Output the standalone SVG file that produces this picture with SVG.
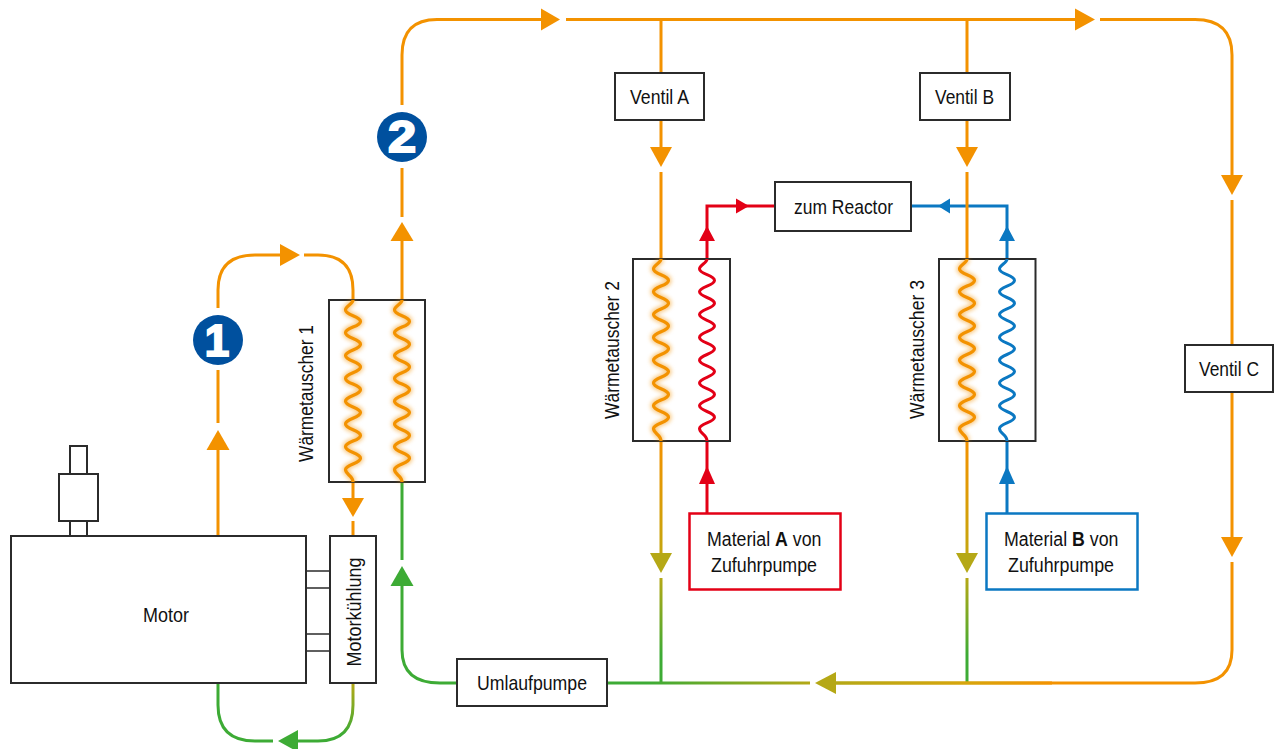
<svg xmlns="http://www.w3.org/2000/svg" width="1275" height="749" viewBox="0 0 1275 749">
<style>
.bg{fill:#fff}
.box{fill:#fff;stroke:#2b2b2b;stroke-width:2}
.stub{fill:none;stroke:#2b2b2b;stroke-width:1.6}
.t{font-family:"Liberation Sans",Arial,sans-serif;font-size:21px;fill:#111}
.b{font-weight:bold}
.l{fill:none;stroke-width:3;stroke-linecap:butt}
.o{stroke:#f39200}.r{stroke:#e30016}.u{stroke:#0b78c2}.g{stroke:#3dab35}
.fo{fill:#f39200}.fr{fill:#e30016}.fu{fill:#0b78c2}.fg{fill:#3dab35}.fy{fill:#b5a816}
.num{font-family:"Liberation Sans",Arial,sans-serif;font-weight:bold;font-size:44px;fill:#fff;stroke:#fff;stroke-width:2;text-anchor:middle}
.badge{fill:#00509e}
</style>
<defs>
<filter id="glow" x="-100%" y="-10%" width="300%" height="120%"><feGaussianBlur stdDeviation="2.200"/></filter>
<path id="coil" d="M0 0c0 4-7.500 6-7.500 10 0 5.200 15 6.200 15 11.400s-15 6.200-15 11.400 15 6.200 15 11.400-15 6.200-15 11.400 15 6.200 15 11.400-15 6.200-15 11.400 15 6.200 15 11.400-15 6.200-15 11.400 15 6.200 15 11.400-15 6.200-15 11.400 15 6.200 15 11.400-15 6.200-15 11.400 15 6.200 15 11.400-15 6.200-15 11.400c0 5 7.500 6 7.500 12.400"/>
<g id="hot"><use href="#coil" fill="none" stroke="#f39200" stroke-width="6" opacity=".5" filter="url(#glow)"/><use href="#coil" fill="none" stroke="#f39200" stroke-width="3.200"/></g>
<linearGradient id="gMotor" gradientUnits="userSpaceOnUse" x1="0" y1="683" x2="0" y2="735"><stop offset="0" stop-color="#b5a816"/><stop offset="1" stop-color="#3dab35"/></linearGradient>
<linearGradient id="gDownA" gradientUnits="userSpaceOnUse" x1="0" y1="441" x2="0" y2="555"><stop offset="0" stop-color="#f39200"/><stop offset="1" stop-color="#c4a60f"/></linearGradient>
<linearGradient id="gLow" gradientUnits="userSpaceOnUse" x1="0" y1="578" x2="0" y2="655"><stop offset="0" stop-color="#b5a816"/><stop offset="1" stop-color="#3dab35"/></linearGradient>
<linearGradient id="gB1" gradientUnits="userSpaceOnUse" x1="836" y1="0" x2="1052" y2="0"><stop offset="0" stop-color="#b5a816"/><stop offset=".6" stop-color="#d7a50c"/><stop offset="1" stop-color="#f39200"/></linearGradient>
<linearGradient id="gB2" gradientUnits="userSpaceOnUse" x1="607" y1="0" x2="812" y2="0"><stop offset=".2" stop-color="#3dab35"/><stop offset="1" stop-color="#b5a816"/></linearGradient>
</defs>
<rect class="bg" width="1275" height="749"/>

<g id="connectors">
<path class="l o" d="M218 536V448M218 423V370M218 308V290Q218 255 255 255H281M304 255H318Q353 255 353 290V300"/>
<polygon class="fo" points="218,430 229.500,450 206.500,450"/>
<polygon class="fo" points="300,255 280,244 280,266"/>
<path class="l o" d="M353 482V500M353 521V536"/>
<polygon class="fo" points="353,517 342,498 364,498"/>
<path d="M353 683V705Q353 741 318 741H297" fill="none" stroke="url(#gMotor)" stroke-width="3"/>
<path class="l g" d="M218 683V705Q218 741 255 741H273"/>
<polygon class="fg" points="278,741 298,730 298,752"/>
<path class="l g" d="M402 482V560M402 586V650Q402 683 440 683H458"/>
<polygon class="fg" points="402,566 413.500,586 390.500,586"/>
<path class="l o" d="M402 300V240M402 217V168M402 105V55Q402 19.500 437 19.500H542M566 19.500H1076M1100 19.500H1195Q1232 19.500 1232 55V176M1232 200V345M1232 392V538M1232 562V650Q1232 683 1195 683H1052"/>
<polygon class="fo" points="402,222 413.500,241 390.500,241"/>
<polygon class="fo" points="560,19.500 541,8.500 541,30.500"/>
<polygon class="fo" points="1095,19.500 1075,8.500 1075,30.500"/>
<polygon class="fo" points="1232,195 1221,175 1243,175"/>
<polygon class="fo" points="1232,557 1221,537 1243,537"/>
<path class="l r" d="M707 513V441M707 259V206H775"/>
<polygon class="fr" points="707,466 699,484 715,484"/>
<polygon class="fr" points="707,226 699,241 715,241"/>
<polygon class="fr" points="749,206 736,198.500 736,213.500"/>
<path class="l u" d="M1007 513V441M1007 259V206H911"/>
<polygon class="fu" points="1007,466 999,484 1015,484"/>
<polygon class="fu" points="1007,226 999,241 1015,241"/>
<polygon class="fu" points="938,206 950,198.500 950,213.500"/>
<path class="l o" d="M661 19.500V73M661 120V150M661 172V259"/>
<polygon class="fo" points="661,167 650,147 672,147"/>
<path class="l o" d="M967 19.500V73M967 120V150M967 172V259"/>
<polygon class="fo" points="967,167 956,147 978,147"/>
<path d="M661 441V555M967 441V555" fill="none" stroke="url(#gDownA)" stroke-width="3"/>
<polygon class="fy" points="661,573 650,553 672,553"/>
<polygon class="fy" points="967,573 956,553 978,553"/>
<path d="M661 578V683M967 578V683" fill="none" stroke="url(#gLow)" stroke-width="3"/>
<path d="M1052 683H836" fill="none" stroke="url(#gB1)" stroke-width="3.400"/>
<polygon class="fy" points="815,683 836,672 836,694"/>
<path d="M810 683H607" fill="none" stroke="url(#gB2)" stroke-width="3"/>
</g>

<g id="motor"><rect class="box" x="11" y="536" width="295" height="147"/><text class="t" x="143" y="621.500" textLength="46" lengthAdjust="spacingAndGlyphs">Motor</text></g>
<g id="shaft"><rect class="box" x="70" y="446" width="17" height="28"/><rect class="box" x="70" y="521" width="17" height="15"/><rect class="box" x="59" y="474" width="39" height="47"/></g>
<g id="motorkuehlung"><path class="stub" d="M306 571H330M306 588H330M306 634H330M306 651H330"/><rect class="box" x="330" y="536" width="46" height="147"/><text class="t" transform="translate(360.500 666.500) rotate(-90)" textLength="109" lengthAdjust="spacingAndGlyphs">Motorkühlung</text></g>
<g id="waermetauscher1"><rect class="box" x="329" y="300" width="96" height="182"/><use href="#hot" x="353" y="300"/><use href="#hot" x="402" y="300"/><text class="t" transform="translate(313 462) rotate(-90)" textLength="137" lengthAdjust="spacingAndGlyphs">Wärmetauscher 1</text></g>
<g id="waermetauscher2"><rect class="box" x="633" y="259" width="97" height="182"/><use href="#hot" x="661" y="259"/><use href="#coil" x="707" y="259" fill="none" stroke="#e30016" stroke-width="3"/><text class="t" transform="translate(619 419) rotate(-90)" textLength="138" lengthAdjust="spacingAndGlyphs">Wärmetauscher 2</text></g>
<g id="waermetauscher3"><rect class="box" x="939" y="259" width="96.500" height="182"/><use href="#hot" x="967" y="259"/><use href="#coil" x="1007" y="259" fill="none" stroke="#0b78c2" stroke-width="3"/><text class="t" transform="translate(924 419) rotate(-90)" textLength="139" lengthAdjust="spacingAndGlyphs">Wärmetauscher 3</text></g>
<g id="ventilA"><rect class="box" x="615" y="73" width="89" height="47"/><text class="t" x="630" y="104" textLength="59" lengthAdjust="spacingAndGlyphs">Ventil A</text></g>
<g id="ventilB"><rect class="box" x="920" y="73" width="90" height="47"/><text class="t" x="935" y="104" textLength="59" lengthAdjust="spacingAndGlyphs">Ventil B</text></g>
<g id="ventilC"><rect class="box" x="1185" y="345" width="88" height="47"/><text class="t" x="1199" y="376" textLength="60" lengthAdjust="spacingAndGlyphs">Ventil C</text></g>
<g id="reactor"><rect class="box" x="775" y="182" width="136" height="49"/><text class="t" x="794" y="214" textLength="99" lengthAdjust="spacingAndGlyphs">zum Reactor</text></g>
<g id="umlaufpumpe"><rect class="box" x="457" y="659" width="150" height="47"/><text class="t" x="477" y="690" textLength="110" lengthAdjust="spacingAndGlyphs">Umlaufpumpe</text></g>
<g id="materialA"><rect x="689.500" y="513.500" width="151" height="76" fill="#fff" stroke="#e30016" stroke-width="2.500"/><text class="t" transform="translate(707 545.500) scale(.845 1)">Material <tspan class="b">A</tspan> von</text><text class="t" x="711" y="571.500" textLength="106" lengthAdjust="spacingAndGlyphs">Zufuhrpumpe</text></g>
<g id="materialB"><rect x="986.500" y="513.500" width="151" height="76" fill="#fff" stroke="#0b78c2" stroke-width="2.500"/><text class="t" transform="translate(1004 545.500) scale(.845 1)">Material <tspan class="b">B</tspan> von</text><text class="t" x="1008" y="571.500" textLength="106" lengthAdjust="spacingAndGlyphs">Zufuhrpumpe</text></g>
<g id="badge1"><circle class="badge" cx="218" cy="340" r="25"/><text class="num" x="217" y="355.500">1</text></g>
<g id="badge2"><circle class="badge" cx="402" cy="137" r="25"/><text class="num" transform="translate(402 152) scale(1.15 1)">2</text></g>
</svg>
